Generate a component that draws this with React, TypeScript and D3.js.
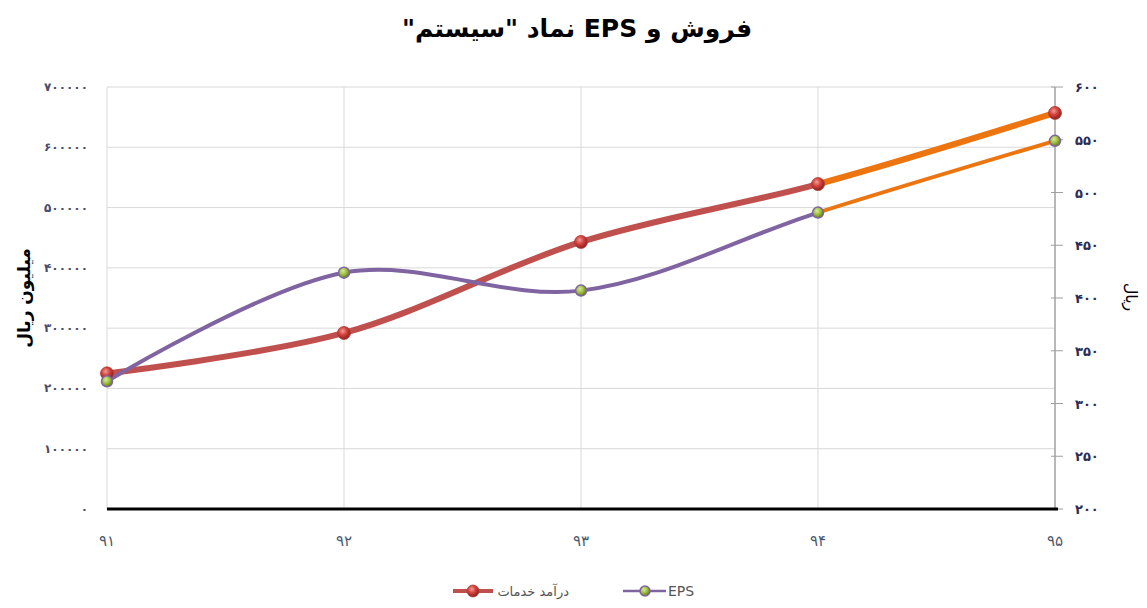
import React, { useEffect, useRef } from "react"
import * as d3 from "d3"

const years = ["۹۱", "۹۲", "۹۳", "۹۴", "۹۵"]
const revenue = [225000, 292000, 443000, 539000, 657000]
const eps = [321, 424, 407, 481, 549]
const leftTicks = [0, 100000, 200000, 300000, 400000, 500000, 600000, 700000]
const rightTicks = [200, 250, 300, 350, 400, 450, 500, 550, 600]

const toFa = (n: number | string) =>
  String(n).replace(/[0-9]/g, d => "۰۱۲۳۴۵۶۷۸۹"[+d])

const W = 1147
const H = 608
const FONT = "'DejaVu Sans', Tahoma, sans-serif"

const App = () => {
  const ref = useRef<SVGSVGElement>(null)

  useEffect(() => {
    const svg = d3.select(ref.current)
    svg.selectAll("*").remove()

    const left = 107, right = 1055, top = 87, bottom = 509
    const x = d3.scalePoint().domain(years).range([left, right])
    const yL = d3.scaleLinear().domain([0, 700000]).range([bottom, top])
    const yR = d3.scaleLinear().domain([200, 600]).range([bottom, top])

    const defs = svg.append("defs")
    const redGrad = defs.append("radialGradient").attr("id", "redBall").attr("cx", "40%").attr("cy", "35%").attr("r", "65%")
    redGrad.append("stop").attr("offset", "0%").attr("stop-color", "#f49a96")
    redGrad.append("stop").attr("offset", "50%").attr("stop-color", "#d0403b")
    redGrad.append("stop").attr("offset", "100%").attr("stop-color", "#8e1f1c")
    const greenGrad = defs.append("radialGradient").attr("id", "greenBall").attr("cx", "40%").attr("cy", "35%").attr("r", "65%")
    greenGrad.append("stop").attr("offset", "0%").attr("stop-color", "#d8ec9a")
    greenGrad.append("stop").attr("offset", "55%").attr("stop-color", "#9bbb3c")
    greenGrad.append("stop").attr("offset", "100%").attr("stop-color", "#5f7a1c")
    defs.append("clipPath").attr("id", "lastSeg")
      .append("rect").attr("x", x("۹۴")!).attr("y", 0).attr("width", W).attr("height", H)
    defs.append("clipPath").attr("id", "firstSegs")
      .append("rect").attr("x", 0).attr("y", 0).attr("width", x("۹۴")!).attr("height", H)

    // title
    svg.append("text").attr("x", 577).attr("y", 37).attr("text-anchor", "middle")
      .attr("font-family", FONT).attr("font-weight", "bold").attr("font-size", 25)
      .attr("direction", "rtl").attr("fill", "#000")
      .text("فروش و  EPS نماد \"سیستم\"")

    // gridlines
    svg.append("g").selectAll("line").data(leftTicks.slice(1)).join("line")
      .attr("x1", left).attr("x2", right).attr("y1", d => yL(d)).attr("y2", d => yL(d))
      .attr("stroke", "#d9d9d9").attr("stroke-width", 1)
    svg.append("g").selectAll("line").data(years.slice(0, 4)).join("line")
      .attr("x1", d => x(d)!).attr("x2", d => x(d)!).attr("y1", top).attr("y2", bottom)
      .attr("stroke", "#d9d9d9").attr("stroke-width", 1)

    // right axis
    svg.append("line").attr("x1", right).attr("x2", right).attr("y1", top).attr("y2", bottom)
      .attr("stroke", "#a0a0a0").attr("stroke-width", 1.5)
    svg.append("g").selectAll("line").data(rightTicks).join("line")
      .attr("x1", right - 4).attr("x2", right + 8).attr("y1", d => yR(d)).attr("y2", d => yR(d))
      .attr("stroke", "#a0a0a0").attr("stroke-width", 1)
    svg.append("g").selectAll("text").data(rightTicks).join("text")
      .attr("x", 1075).attr("y", d => yR(d) + 5).attr("font-family", FONT)
      .attr("font-size", 13).attr("font-weight", "bold").attr("fill", "#2b2b55")
      .text(d => toFa(d))

    // left labels
    svg.append("g").selectAll("text").data(leftTicks).join("text")
      .attr("x", 88).attr("y", d => yL(d) + 4).attr("text-anchor", "end").attr("font-family", FONT)
      .attr("font-size", 12).attr("font-weight", "bold").attr("fill", "#4a4a6a")
      .text(d => toFa(d))

    // baseline
    svg.append("line").attr("x1", left).attr("x2", right + 3).attr("y1", bottom).attr("y2", bottom)
      .attr("stroke", "#000").attr("stroke-width", 3)

    // x labels
    svg.append("g").selectAll("text").data(years).join("text")
      .attr("x", d => x(d)!).attr("y", 546).attr("text-anchor", "middle").attr("font-family", FONT)
      .attr("font-size", 15).attr("fill", "#4a5a70")
      .text(d => d)

    // axis titles
    svg.append("text").attr("transform", "translate(30,298) rotate(-90)").attr("text-anchor", "middle")
      .attr("font-family", FONT).attr("font-weight", "bold").attr("font-size", 17).attr("fill", "#000")
      .text("میلیون ریال")
    svg.append("text").attr("transform", "translate(1126,297) rotate(90)").attr("text-anchor", "middle")
      .attr("font-family", FONT).attr("font-size", 16).attr("fill", "#000")
      .text("ریال")

    const lineRev = d3.line<number>().x((_, i) => x(years[i])!).y(d => yL(d)).curve(d3.curveCatmullRom.alpha(0.5))
    const lineEps = d3.line<number>().x((_, i) => x(years[i])!).y(d => yR(d)).curve(d3.curveCatmullRom.alpha(0.5))

    const series = [
      { path: lineRev(revenue), color: "#c0504d", w: 6 },
      { path: lineEps(eps), color: "#8064a2", w: 4 },
    ]
    series.forEach(s => {
      svg.append("path").attr("d", s.path).attr("fill", "none").attr("stroke", s.color)
        .attr("stroke-width", s.w).attr("stroke-linecap", "round").attr("clip-path", "url(#firstSegs)")
      svg.append("path").attr("d", s.path).attr("fill", "none").attr("stroke", "#ec7510")
        .attr("stroke-width", s.w).attr("stroke-linecap", "round").attr("clip-path", "url(#lastSeg)")
    })

    // markers
    svg.append("g").selectAll("circle").data(revenue).join("circle")
      .attr("cx", (_, i) => x(years[i])!).attr("cy", d => yL(d)).attr("r", 6.5)
      .attr("fill", "url(#redBall)").attr("stroke", "#b03c38").attr("stroke-width", 0.8)
    svg.append("g").selectAll("circle").data(eps).join("circle")
      .attr("cx", (_, i) => x(years[i])!).attr("cy", d => yR(d)).attr("r", 5.5)
      .attr("fill", "url(#greenBall)").attr("stroke", "#8064a2").attr("stroke-width", 1.5)

    // legend
    const lg = svg.append("g")
    lg.append("line").attr("x1", 453).attr("x2", 493).attr("y1", 591).attr("y2", 591)
      .attr("stroke", "#c0504d").attr("stroke-width", 4)
    lg.append("circle").attr("cx", 473).attr("cy", 591).attr("r", 6)
      .attr("fill", "url(#redBall)").attr("stroke", "#b03c38").attr("stroke-width", 0.8)
    lg.append("text").attr("x", 569).attr("y", 596).attr("text-anchor", "start").attr("direction", "rtl")
      .attr("font-family", FONT).attr("font-size", 13).attr("fill", "#555")
      .text("درآمد خدمات")
    lg.append("line").attr("x1", 623).attr("x2", 666).attr("y1", 591).attr("y2", 591)
      .attr("stroke", "#8064a2").attr("stroke-width", 2.5)
    lg.append("circle").attr("cx", 645).attr("cy", 591).attr("r", 5)
      .attr("fill", "url(#greenBall)").attr("stroke", "#8064a2").attr("stroke-width", 1.5)
    lg.append("text").attr("x", 668).attr("y", 596)
      .attr("font-family", FONT).attr("font-size", 14).attr("fill", "#555")
      .text("EPS")
  }, [])

  return (
    <svg ref={ref} width={W} height={H} style={{ position: "absolute", left: 0, top: 0, background: "#fff" }} />
  )
}

export default App
